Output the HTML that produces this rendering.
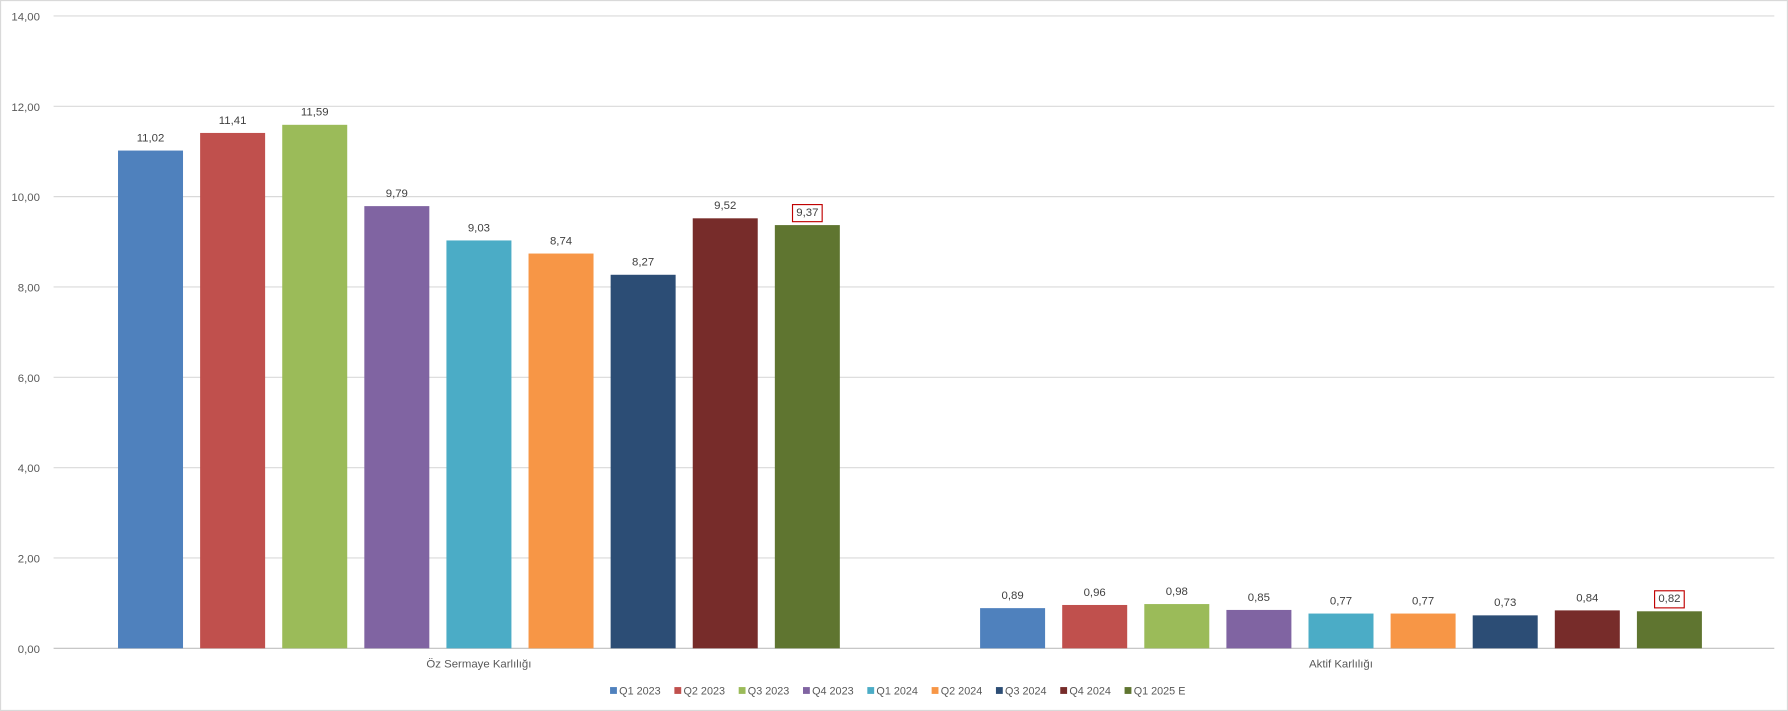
<!DOCTYPE html>
<html><head><meta charset="utf-8"><style>
html,body{margin:0;padding:0;background:#fff;}
svg{display:block;font-family:"Liberation Sans",sans-serif;}
</style></head><body>
<svg id="chart" width="1788" height="711" viewBox="0 0 1568 624" preserveAspectRatio="none" xmlns="http://www.w3.org/2000/svg">
<rect x="0.5" y="0.5" width="1567" height="623" fill="#fff" stroke="#d9d9d9"/>
<g id="grid"></g><g id="bars"></g><g id="labels"></g><g id="legend"></g>
</svg>
<script>
const categories = ["Öz Sermaye Karlılığı", "Aktif Karlılığı"];
const seriesNames = ["Q1 2023","Q2 2023","Q3 2023","Q4 2023","Q1 2024","Q2 2024","Q3 2024","Q4 2024","Q1 2025 E"];
const equityValues = [11.02,11.41,11.59,9.79,9.03,8.74,8.27,9.52,9.37];
const assetValues = [0.89,0.96,0.98,0.85,0.77,0.77,0.73,0.84,0.82];
const yTicks = [0,2,4,6,8,10,12,14];
const colors = ["#4f81bd","#c0504d","#9bbb59","#8064a2","#4bacc6","#f79646","#2c4d75","#772c2a","#5f7530"];
const NS="http://www.w3.org/2000/svg";
const plotL=42, plotR=1554, plotT=14, plotB=569, yMax=14;
const y = v => plotB - (v/yMax)*(plotB-plotT);
const catW=(plotR-plotL)/categories.length;
const xCenter = i => plotL + catW*(i+0.5);
const pitch=72, barW=57;
const barX = (c,s) => xCenter(c) - (seriesNames.length*pitch-(pitch-barW))/2 + s*pitch;
function mk(tag,attrs,parent,text){const e=document.createElementNS(NS,tag);for(const k in attrs)e.setAttribute(k,attrs[k]);if(text!==undefined)e.textContent=text;parent.appendChild(e);return e;}
const grid=document.getElementById('grid'),bars=document.getElementById('bars'),labels=document.getElementById('labels'),legend=document.getElementById('legend');
yTicks.forEach(t=>{
  const l=mk('line',{x1:47,x2:1556,y1:y(t),y2:y(t),stroke:t===0?'#bfbfbf':'#d9d9d9','stroke-width':1},grid);
  
  
  const tx=mk('text',{x:35,y:y(t)+4,'text-anchor':'end','font-size':10,fill:'#595959'},grid,t.toFixed(2).replace('.',','));
  
  
});
const allSeries=[equityValues,assetValues];
allSeries.forEach((vals,c)=>{
  vals.forEach((v,s)=>{
    const x=barX(c,s);
    const r=mk('rect',{x:x,y:y(v),width:barW,height:plotB-y(v),fill:colors[s]},bars);
    
    
    const lbl=v.toFixed(2).replace('.',',');
    const cx=x+barW/2, ly=y(v)-8;
    if(s===seriesNames.length-1){
      const b=mk('rect',{x:cx-13,y:ly-10,width:26,height:15,fill:'#fff',stroke:'#c00000','stroke-width':1},labels);
      
      
    }
    const t=mk('text',{x:cx,y:ly,'text-anchor':'middle','font-size':10,fill:'#404040'},labels,lbl);
    
    
  });
  const ct=mk('text',{x:xCenter(c),y:586,'text-anchor':'middle','font-size':10,fill:'#595959'},labels,categories[c]);
  
  
});
seriesNames.forEach((n,i)=>{
  const lx=535+i*56.4;
  const g=mk('g',{},legend);
  
  
  mk('rect',{x:lx,y:603,width:6,height:6,fill:colors[i]},g);
  mk('text',{x:lx+8,y:609.5,'font-size':9.5,fill:'#595959'},g,n);
});
</script>
</body></html>
